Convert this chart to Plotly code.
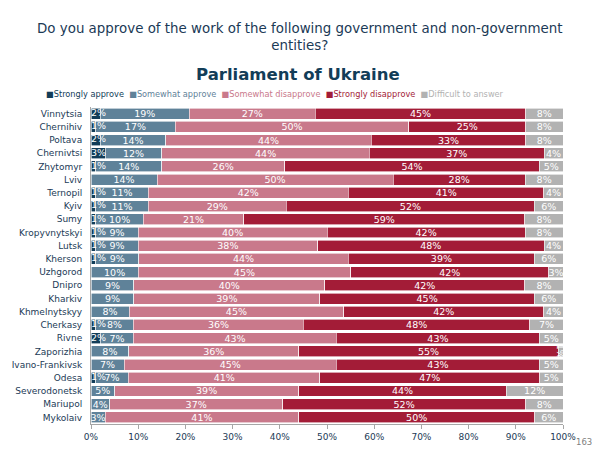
import numpy as np
import plotly.graph_objects as go

# регионы сверху вниз
regions = ["Vinnytsia", "Chernihiv", "Poltava", "Chernivtsi", "Zhytomyr", "Lviv",
           "Ternopil", "Kyiv", "Sumy", "Kropyvnytskyi", "Lutsk", "Kherson",
           "Uzhgorod", "Dnipro", "Kharkiv", "Khmelnytskyy", "Cherkasy", "Rivne",
           "Zaporizhia", "Ivano-Frankivsk", "Odesa", "Severodonetsk", "Mariupol",
           "Mykolaiv"]

strongly_approve = [2, 1, 2, 3, 1, 0, 1, 1, 1, 1, 1, 1, 0, 0, 0, 0, 1, 2, 0, 0, 1, 0, 0, 0]
somewhat_approve = [19, 17, 14, 12, 14, 14, 11, 11, 10, 9, 9, 9, 10, 9, 9, 8, 8, 7, 8, 7, 7, 5, 4, 3]
somewhat_disapprove = [27, 50, 44, 44, 26, 50, 42, 29, 21, 40, 38, 44, 45, 40, 39, 45, 36, 43, 36, 45, 41, 39, 37, 41]
strongly_disapprove = [45, 25, 33, 37, 54, 28, 41, 52, 59, 42, 48, 39, 42, 42, 45, 42, 48, 43, 55, 43, 47, 44, 52, 50]
difficult = [8, 8, 8, 4, 5, 8, 4, 6, 8, 8, 4, 6, 3, 8, 6, 4, 7, 5, 1, 5, 5, 12, 8, 6]

series = [
    ("Strongly approve", strongly_approve, "#123d58"),
    ("Somewhat approve", somewhat_approve, "#5f8299"),
    ("Somewhat disapprove", somewhat_disapprove, "#c9798b"),
    ("Strongly disapprove", strongly_disapprove, "#a31c37"),
    ("Difficult to answer", difficult, "#b2b2b2"),
]

# суммы не всегда 100 из-за округления — нормируем
totals = np.sum([s[1] for s in series], axis=0)

FONT = "DejaVu Sans"
NAVY = "#1b3a56"
LABEL = dict(color="white", size=9.5, family=FONT)

fig = go.Figure()
for name, vals, color in series:
    vals = np.array(vals)
    first = name == "Strongly approve"
    fig.add_trace(go.Bar(
        y=regions,
        x=vals / totals * 100,
        orientation="h",
        name=name,
        marker=dict(color=color, line=dict(color="white", width=0.6)),
        # у первой серии подписи ставим отдельно — сегменты слишком узкие
        text=None if first else [f"{v}%" if v > 0 else "" for v in vals],
        textposition="inside",
        insidetextanchor="middle",
        constraintext="none",
        cliponaxis=False,
        textfont=LABEL,
        hoverinfo="skip",
        showlegend=False,
    ))

# подписи "Strongly approve" от начала полосы
fig.add_trace(go.Scatter(
    y=regions,
    x=[0] * len(regions),
    mode="text",
    text=[f"{v}%" if v > 0 else "" for v in strongly_approve],
    textposition="middle right",
    textfont=LABEL,
    hoverinfo="skip",
    showlegend=False,
    cliponaxis=False,
))

# легенда одной строкой, цвет текста как у серии
legend_txt = "  ".join(
    f'<span style="color:{c}">■{n}</span>' for n, _, c in series
)

# страница рисуется с отступом body 8px — уменьшаем фигуру на столько же
fig.update_layout(
    width=592, height=441,
    barmode="stack",
    bargap=0.17,
    paper_bgcolor="white",
    plot_bgcolor="white",
    margin=dict(l=83, r=37, t=99, b=25),
    font=dict(family=FONT, color=NAVY, size=10),
    showlegend=False,
    annotations=[
        dict(text="Do you approve of the work of the following government and non-government<br>entities?",
             x=(300 - 91) / 472, y=1, xref="paper", yref="paper", xanchor="center", yanchor="middle",
             showarrow=False, font=dict(size=13.4, color=NAVY), align="center",
             yshift=70),
        dict(text="<b>Parliament of Ukraine</b>",
             x=(298 - 91) / 472, y=1, xref="paper", yref="paper", xanchor="center", yanchor="middle",
             showarrow=False, font=dict(size=16.5, color="#123d58"), yshift=33),
        dict(text=legend_txt,
             x=(275 - 91) / 472, y=1, xref="paper", yref="paper", xanchor="center", yanchor="middle",
             showarrow=False, font=dict(size=8.2), yshift=13),
        dict(text="163", x=1, y=0, xref="paper", yref="paper", xanchor="center", yanchor="middle",
             xshift=21, yshift=-18, showarrow=False, font=dict(size=8.5, color="#808080")),
    ],
)

fig.update_xaxes(range=[0, 100], tickvals=list(range(0, 101, 10)),
                 ticktext=[f"{t}%" for t in range(0, 101, 10)],
                 showgrid=False, zeroline=False, showline=True, linecolor="#a6a6a6",
                 ticks="outside", ticklen=4, tickcolor="#a6a6a6",
                 tickfont=dict(size=9, color=NAVY), automargin=False)
fig.update_yaxes(range=[len(regions) - 0.5, -0.5], showgrid=False, showline=True,
                 linecolor="#a6a6a6", ticks="", ticklabelstandoff=6, automargin=False,
                 tickfont=dict(size=9, color=NAVY))

fig.write_html("out.html")
